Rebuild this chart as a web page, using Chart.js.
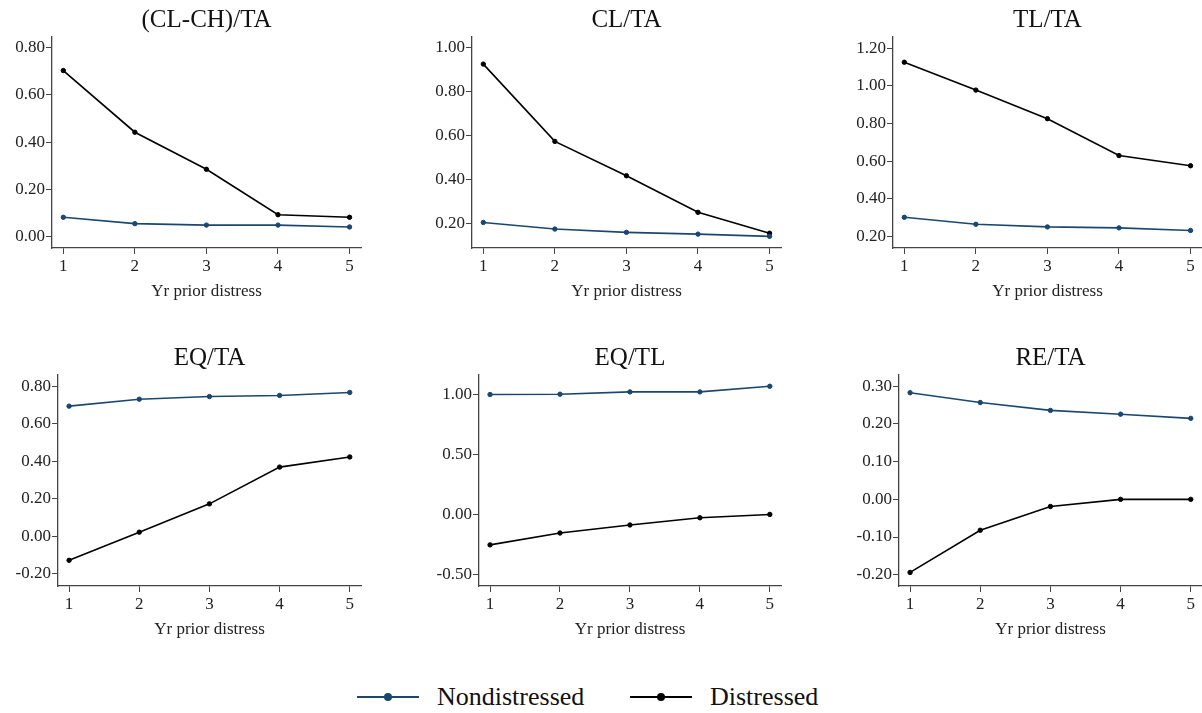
<!DOCTYPE html>
<html>
<head>
<meta charset="utf-8">
<script src="https://cdn.jsdelivr.net/npm/chart.js@4/dist/chart.umd.min.js"></script>
<style>
  body { margin: 0; background: #fff; width: 1202px; height: 713px; position: relative; overflow: hidden; font-family: "Liberation Serif", serif; }
  canvas { position: absolute; }
  .key { position: absolute; top: 681px; height: 32px; display: flex; align-items: center; }
  .key .sample { position: relative; width: 62px; height: 2px; margin-right: 18px; }
  .key .sample span { position: absolute; left: 27px; top: -3.5px; width: 8px; height: 8px; border-radius: 50%; }
  .key .name { font-size: 26px; color: #111; line-height: 32px; }
</style>
</head>
<body>
<script>
// years before distress
const years = [1, 2, 3, 4, 5];
const seriesNames = ['Nondistressed', 'Distressed'];
const seriesColors = ['#1a476f', '#000000'];

// (CL-CH)/TA
const clchTA_non = [0.082, 0.055, 0.049, 0.049, 0.041];
const clchTA_dis = [0.703, 0.442, 0.285, 0.093, 0.082];
const clchTA_ticks = [0, 0.2, 0.4, 0.6, 0.8];
// CL/TA
const clTA_non = [0.206, 0.176, 0.161, 0.153, 0.143];
const clTA_dis = [0.925, 0.574, 0.418, 0.252, 0.157];
const clTA_ticks = [0.2, 0.4, 0.6, 0.8, 1.0];
// TL/TA
const tlTA_non = [0.302, 0.265, 0.251, 0.246, 0.232];
const tlTA_dis = [1.126, 0.978, 0.826, 0.630, 0.576];
const tlTA_ticks = [0.2, 0.4, 0.6, 0.8, 1.0, 1.2];
// EQ/TA
const eqTA_non = [0.694, 0.731, 0.745, 0.751, 0.767];
const eqTA_dis = [-0.128, 0.022, 0.173, 0.369, 0.423];
const eqTA_ticks = [-0.2, 0, 0.2, 0.4, 0.6, 0.8];
// EQ/TL
const eqTL_non = [1.000, 1.003, 1.022, 1.022, 1.069];
const eqTL_dis = [-0.254, -0.155, -0.088, -0.028, 0.000];
const eqTL_ticks = [-0.5, 0, 0.5, 1.0];
// RE/TA
const reTA_non = [0.283, 0.257, 0.236, 0.226, 0.215];
const reTA_dis = [-0.194, -0.082, -0.019, 0.000, 0.000];
const reTA_ticks = [-0.2, -0.1, 0, 0.1, 0.2, 0.3];

const fontFamily = '"Liberation Serif", serif';
const axisColor = '#444';

function makePanel(title, non, dis, yTicks, yMin, yMax, box) {
  const canvas = document.createElement('canvas');
  canvas.width = box.width;
  canvas.height = 310;
  canvas.style.left = box.left + 'px';
  canvas.style.top = box.top + 'px';
  document.body.appendChild(canvas);

  const series = [non, dis].map((vals, i) => ({
    label: seriesNames[i],
    data: years.map((x, j) => ({ x: x, y: vals[j] })),
    borderColor: seriesColors[i],
    backgroundColor: seriesColors[i],
    pointBackgroundColor: seriesColors[i],
    borderWidth: 1.6,
    pointRadius: 2.2,
    pointBorderWidth: 1,
    tension: 0
  }));

  new Chart(canvas.getContext('2d'), {
    type: 'line',
    data: { datasets: series },
    options: {
      responsive: false,
      animation: false,
      layout: { padding: { left: 0, top: 0, bottom: 0, right: box.left + box.width - box.axisRight } },
      plugins: {
        legend: { display: false },
        tooltip: { enabled: false },
        title: {
          display: true, text: title, fullSize: false, color: '#111',
          font: { family: fontFamily, size: 25, weight: 'normal' },
          padding: { top: 5, bottom: 2 }
        }
      },
      scales: {
        x: {
          type: 'linear', min: 0.842, max: 5.16,
          afterBuildTicks: s => { s.ticks = years.map(v => ({ value: v })); },
          afterFit: s => { s.height = 62; s.paddingLeft = 0; s.paddingRight = 0; },
          ticks: { color: '#222', font: { family: fontFamily, size: 17 }, padding: 2, maxRotation: 0 },
          grid: { drawOnChartArea: false, drawTicks: true, tickLength: 6, color: axisColor },
          border: { color: axisColor, width: 1.3 },
          title: { display: true, text: 'Yr prior distress', color: '#222', font: { family: fontFamily, size: 17 }, padding: { top: 0, bottom: 8 } }
        },
        y: {
          min: yMin, max: yMax,
          afterBuildTicks: s => { s.ticks = yTicks.map(v => ({ value: v })); },
          afterFit: s => { s.width = box.axisLeft - box.left; s.paddingTop = 0; s.paddingBottom = 0; },
          ticks: { color: '#222', font: { family: fontFamily, size: 17 }, padding: 1, callback: v => v.toFixed(2) },
          grid: { drawOnChartArea: false, drawTicks: true, tickLength: 6, color: axisColor },
          border: { color: axisColor, width: 1.3 }
        }
      }
    }
  });
}

// right-hand column canvases run past the page edge so the x axis can reach it
makePanel('(CL-CH)/TA', clchTA_non, clchTA_dis, clchTA_ticks, -0.048, 0.845, { left: 0, top: 0, width: 400, axisLeft: 52, axisRight: 361 });
makePanel('CL/TA', clTA_non, clTA_dis, clTA_ticks, 0.09, 1.048, { left: 400, top: 0, width: 400, axisLeft: 472, axisRight: 781 });
makePanel('TL/TA', tlTA_non, tlTA_dis, tlTA_ticks, 0.139, 1.26, { left: 800, top: 0, width: 412, axisLeft: 893, axisRight: 1202 });
makePanel('EQ/TA', eqTA_non, eqTA_dis, eqTA_ticks, -0.265, 0.86, { left: 0, top: 338, width: 400, axisLeft: 58, axisRight: 361 });
makePanel('EQ/TL', eqTL_non, eqTL_dis, eqTL_ticks, -0.597, 1.163, { left: 400, top: 338, width: 400, axisLeft: 479, axisRight: 781 });
makePanel('RE/TA', reTA_non, reTA_dis, reTA_ticks, -0.23, 0.33, { left: 800, top: 338, width: 412, axisLeft: 899, axisRight: 1202 });

// shared legend
const keyLefts = [357, 630];
seriesNames.forEach((name, i) => {
  const key = document.createElement('div');
  key.className = 'key';
  key.style.left = keyLefts[i] + 'px';
  key.innerHTML = '<div class="sample" style="background:' + seriesColors[i] + '"><span style="background:' + seriesColors[i] + '"></span></div><div class="name">' + name + '</div>';
  document.body.appendChild(key);
});
</script>
</body>
</html>
